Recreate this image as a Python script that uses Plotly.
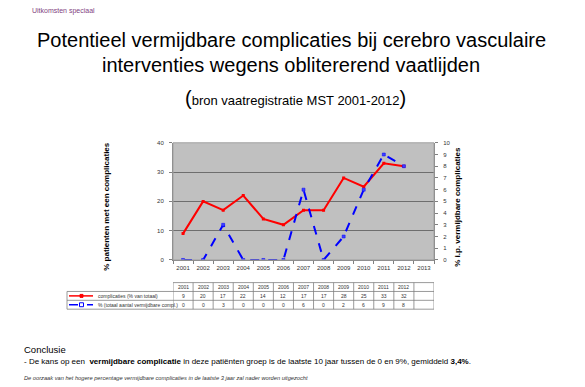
import plotly.graph_objects as go

W, H = 585, 387
years = [2001, 2002, 2003, 2004, 2005, 2006, 2007, 2008, 2009, 2010, 2011, 2012]
axis_years = years + [2013]
complicaties = [9, 20, 17, 22, 14, 12, 17, 17, 28, 25, 33, 32]
vermijdbaar = [0, 0, 3, 0, 0, 0, 6, 0, 2, 6, 9, 8]
red_label = "complicaties (% van totaal)"
blue_label = "% (totaal aantal vermijdbare compl.)"

def px(x):
    return x / W

def py(y):
    return 1 - y / H

FONT = "Liberation Sans, Arial, sans-serif"
fig = go.Figure()
fig.add_trace(go.Scatter(x=years, y=complicaties, mode="lines+markers", name=red_label,
                         line=dict(color="#FF0000", width=2),
                         marker=dict(color="#FF0000", size=3, symbol="square"), yaxis="y"))
fig.add_trace(go.Scatter(x=years, y=vermijdbaar, mode="lines+markers", name=blue_label,
                         line=dict(color="#0000FF", width=2, dash="dash"),
                         marker=dict(color="#4040FF", size=3, symbol="square",
                                     line=dict(color="#0000FF", width=0.5)), yaxis="y2"))

x0, x1 = px(173), px(434)
y0, y1 = py(261), py(142)
tickfont = dict(family=FONT, size=6, color="#333333")
fig.update_layout(
    width=W, height=H, margin=dict(l=0, r=0, t=0, b=0),
    paper_bgcolor="white", plot_bgcolor="#C0C0C0", showlegend=False,
    xaxis=dict(domain=[x0, x1], range=[2000.5, 2013.5], tickvals=axis_years,
               ticktext=[str(y) for y in axis_years], ticks="", tickfont=tickfont,
               showgrid=False, zeroline=False, showline=True, linecolor="#808080",
               linewidth=1, ticklabelstandoff=2,
               minor=dict(tickvals=[y + 0.5 for y in [2000] + axis_years], ticks="outside",
                          ticklen=3, tickcolor="#808080", showgrid=False)),
    yaxis=dict(domain=[y0, y1], range=[0, 40], dtick=10, ticks="outside", ticklen=3,
               tickcolor="#808080", tickfont=tickfont, showgrid=True, gridcolor="#6E6E6E",
               gridwidth=1, zeroline=False, showline=True, linecolor="#808080", linewidth=1,
               ticklabelstandoff=4),
    yaxis2=dict(overlaying="y", side="right", range=[0, 10], dtick=1, ticks="outside",
                ticklen=3, tickcolor="#808080", tickfont=tickfont, showgrid=False,
                zeroline=False, showline=True, linecolor="#808080", linewidth=1,
                anchor="x", ticklabelstandoff=4),
)
# plot border
fig.add_shape(type="rect", xref="paper", yref="paper", x0=x0, x1=x1, y0=y0, y1=y1,
              line=dict(color="#A0A0A0", width=1), layer="above")

ann = []
ann.append(dict(text="Uitkomsten speciaal", x=px(30), y=py(8), xanchor="left", yanchor="middle",
                font=dict(family=FONT, size=7, color="#7F3F7F")))
ann.append(dict(text="Potentieel vermijdbare complicaties bij cerebro vasculaire", x=px(291), y=py(38),
                xanchor="center", yanchor="middle", font=dict(family=FONT, size=20, color="black")))
ann.append(dict(text="interventies wegens oblitererend vaatlijden", x=px(291), y=py(63),
                xanchor="center", yanchor="middle", font=dict(family=FONT, size=20, color="black")))
ann.append(dict(text="<span style='font-size:20px'>(</span>bron vaatregistratie MST 2001-2012<span style='font-size:20px'>)</span>",
                x=px(295), y=py(96), xanchor="center", yanchor="middle",
                font=dict(family=FONT, size=13, color="black")))
ann.append(dict(text="<b>% patienten met een complicaties</b>", x=px(107), y=py(207), textangle=-90,
                xanchor="center", yanchor="middle", font=dict(family=FONT, size=8, color="black")))
ann.append(dict(text="<b>% i.p. vermijdbare complicaties</b>", x=px(458), y=py(207), textangle=-90,
                xanchor="center", yanchor="middle", font=dict(family=FONT, size=8, color="black")))

# data table
tfont = dict(family=FONT, size=5, color="#333333")
rows_y = [py(288.5), py(297.5), py(306.5)]
for yr in axis_years:
    if yr <= 2012:
        ann.append(dict(text=str(yr), x=yr, xref="x", y=rows_y[0], yref="paper", xanchor="center",
                        yanchor="middle", font=tfont, showarrow=False))
for yr, v in zip(years, complicaties):
    ann.append(dict(text=str(v), x=yr, xref="x", y=rows_y[1], yref="paper", xanchor="center",
                    yanchor="middle", font=tfont, showarrow=False))
for yr, v in zip(years, vermijdbaar):
    ann.append(dict(text=str(v), x=yr, xref="x", y=rows_y[2], yref="paper", xanchor="center",
                    yanchor="middle", font=tfont, showarrow=False))
ann.append(dict(text=red_label, x=px(96), y=rows_y[1], xanchor="left", yanchor="middle", font=tfont))
ann.append(dict(text=blue_label, x=px(96), y=rows_y[2], xanchor="left", yanchor="middle", font=tfont))

tb_l, tb_top, tb_r1, tb_r2, tb_bot = px(67), py(284), py(293), py(302), py(311)
bc = dict(color="#808080", width=0.8)
fig.add_shape(type="line", xref="paper", yref="paper", x0=x0, x1=x1, y0=tb_top, y1=tb_top, line=bc)
for yy in [tb_r1, tb_r2, tb_bot]:
    fig.add_shape(type="line", xref="paper", yref="paper", x0=tb_l, x1=x1, y0=yy, y1=yy, line=bc)
fig.add_shape(type="line", xref="paper", yref="paper", x0=tb_l, x1=tb_l, y0=tb_bot, y1=tb_r1, line=bc)
for k in range(14):
    xv = 2000.5 + k
    fig.add_shape(type="line", xref="x", yref="paper", x0=xv, x1=xv, y0=tb_bot, y1=tb_top, line=bc)
# legend keys in table
fig.add_shape(type="line", xref="paper", yref="paper", x0=px(69), x1=px(93), y0=rows_y[1], y1=rows_y[1],
              line=dict(color="#FF0000", width=1.5))
fig.add_shape(type="rect", xref="paper", yref="paper", x0=px(80), x1=px(83), y0=rows_y[1] - 1.5 / H,
              y1=rows_y[1] + 1.5 / H, line=dict(color="#FF0000", width=1), fillcolor="#FF0000")
fig.add_shape(type="line", xref="paper", yref="paper", x0=px(69), x1=px(93), y0=rows_y[2], y1=rows_y[2],
              line=dict(color="#0000FF", width=1.5, dash="dash"))
fig.add_shape(type="rect", xref="paper", yref="paper", x0=px(79.5), x1=px(83.5), y0=rows_y[2] - 2 / H,
              y1=rows_y[2] + 2 / H, line=dict(color="#0000FF", width=1), fillcolor="white")

# conclusion
ann.append(dict(text="Conclusie", x=px(22), y=py(352), xanchor="left", yanchor="middle",
                font=dict(family=FONT, size=9.5, color="black")))
ann.append(dict(text="- De kans op een  <b>vermijdbare complicatie</b> in deze patiënten groep is de laatste 10 jaar tussen de 0 en 9%, gemiddeld <b>3,4%</b>.",
                x=px(22), y=py(364), xanchor="left", yanchor="middle",
                font=dict(family=FONT, size=8, color="black")))
ann.append(dict(text="<i>De oorzaak van het hogere percentage vermijdbare complicaties in de laatste 3 jaar zal nader worden uitgezocht</i>",
                x=px(22), y=py(381), xanchor="left", yanchor="middle",
                font=dict(family=FONT, size=5.7, color="#333333")))

for a in ann:
    a.setdefault("xref", "paper")
    a.setdefault("yref", "paper")
    a.setdefault("showarrow", False)
fig.update_layout(annotations=ann)
fig.write_html("out.html", config={"displayModeBar": False},
               post_script="document.body.style.margin='0';document.body.style.overflow='hidden';")
